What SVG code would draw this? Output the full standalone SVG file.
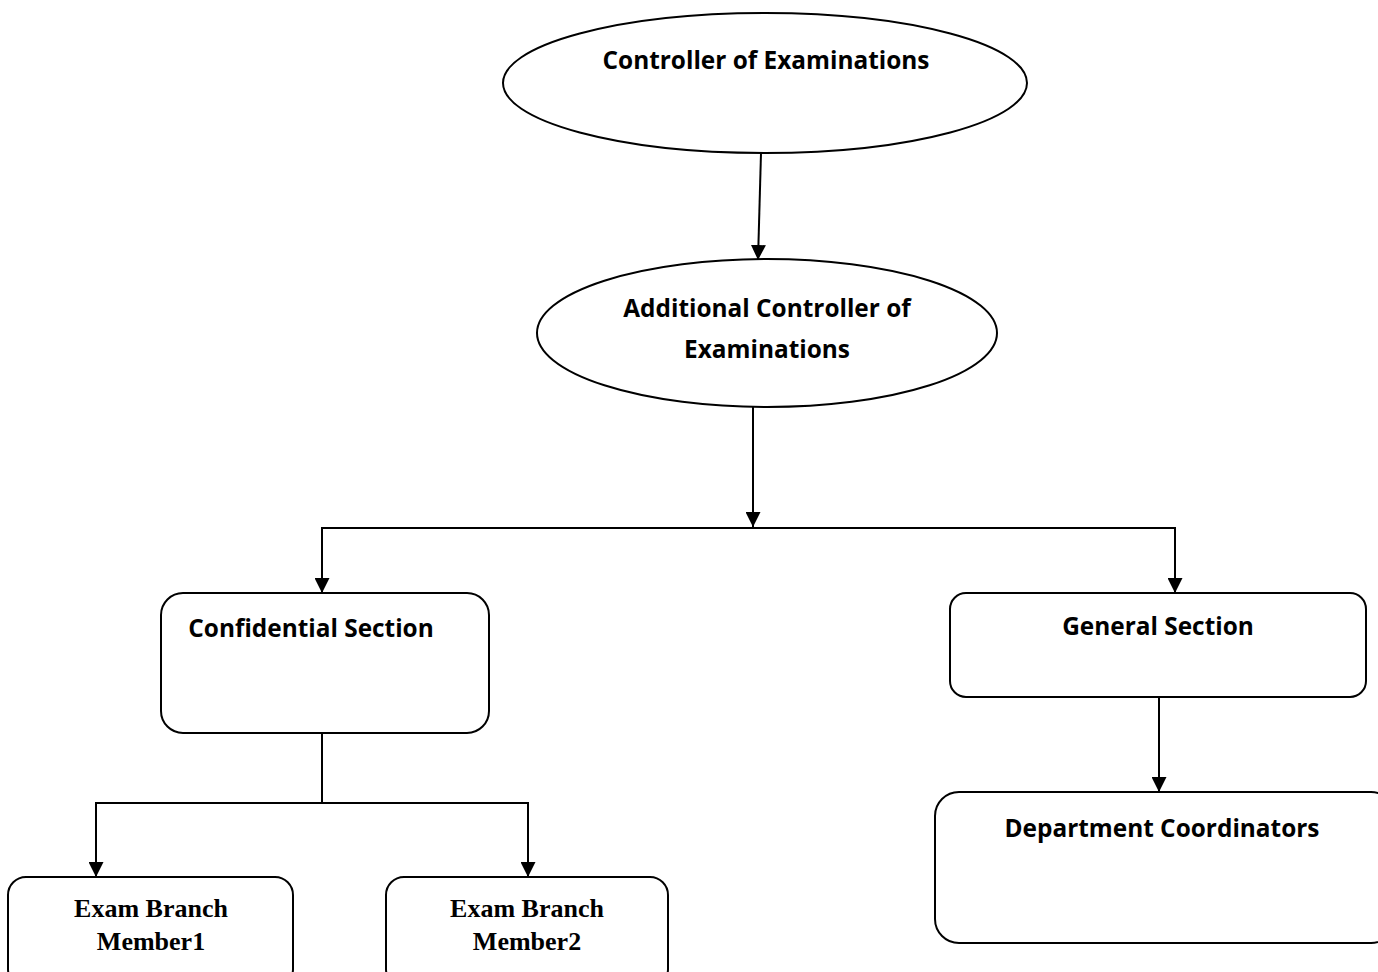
<svg xmlns="http://www.w3.org/2000/svg" width="1378" height="972" viewBox="0 0 1378 972">
<style>
.shape{fill:#fff;stroke:#000;stroke-width:2}
.conn{fill:none;stroke:#000;stroke-width:2}
.t{font-family:"Open Sans","Liberation Sans",Arial,sans-serif;font-weight:bold;font-size:24.4px;fill:#000;text-anchor:middle}
.s{font-family:"Liberation Serif","Times New Roman",serif;font-weight:bold;font-size:26px;fill:#000;text-anchor:middle}
</style>
<defs>
<marker id="arr" viewBox="0 0 10 10" refX="10" refY="5" markerWidth="7.5" markerHeight="7.5" markerUnits="strokeWidth" orient="auto">
<path d="M0,0 L10,5 L0,10 z" fill="#000"/>
</marker>
</defs>
<rect width="1378" height="972" fill="#fff"/>
<g id="connectors">
<line class="conn" x1="761" y1="153" x2="758" y2="260" marker-end="url(#arr)"/>
<line class="conn" x1="753" y1="407" x2="753" y2="527" marker-end="url(#arr)"/>
<polyline class="conn" points="322,580 322,528 1175,528 1175,580"/>
<line class="conn" x1="322" y1="540" x2="322" y2="593" marker-end="url(#arr)"/>
<line class="conn" x1="1175" y1="540" x2="1175" y2="593" marker-end="url(#arr)"/>
<line class="conn" x1="322" y1="733" x2="322" y2="803"/>
<polyline class="conn" points="96,860 96,803 528,803 528,860"/>
<line class="conn" x1="96" y1="815" x2="96" y2="877" marker-end="url(#arr)"/>
<line class="conn" x1="528" y1="815" x2="528" y2="877" marker-end="url(#arr)"/>
<line class="conn" x1="1159" y1="697" x2="1159" y2="792" marker-end="url(#arr)"/>
</g>
<g id="controller">
<ellipse class="shape" cx="765" cy="83" rx="262" ry="70"/>
<text class="t" x="766" y="69">Controller of Examinations</text>
</g>
<g id="additional-controller">
<ellipse class="shape" cx="767" cy="333" rx="230" ry="74"/>
<text class="t" x="767" y="317">Additional Controller of</text>
<text class="t" x="767" y="358">Examinations</text>
</g>
<g id="confidential-section">
<rect class="shape" x="161" y="593" width="328" height="140" rx="22"/>
<text class="t" x="311" y="637">Confidential Section</text>
</g>
<g id="general-section">
<rect class="shape" x="950" y="593" width="416" height="104" rx="16"/>
<text class="t" x="1158" y="635">General Section</text>
</g>
<g id="department-coordinators">
<rect class="shape" x="935" y="792" width="460" height="151" rx="24"/>
<text class="t" x="1162" y="837">Department Coordinators</text>
</g>
<g id="member1">
<rect class="shape" x="8" y="877" width="285" height="110" rx="18"/>
<text class="s" x="151" y="917">Exam Branch</text>
<text class="s" x="151" y="950">Member1</text>
</g>
<g id="member2">
<rect class="shape" x="386" y="877" width="282" height="110" rx="18"/>
<text class="s" x="527" y="917">Exam Branch</text>
<text class="s" x="527" y="950">Member2</text>
</g>
</svg>
